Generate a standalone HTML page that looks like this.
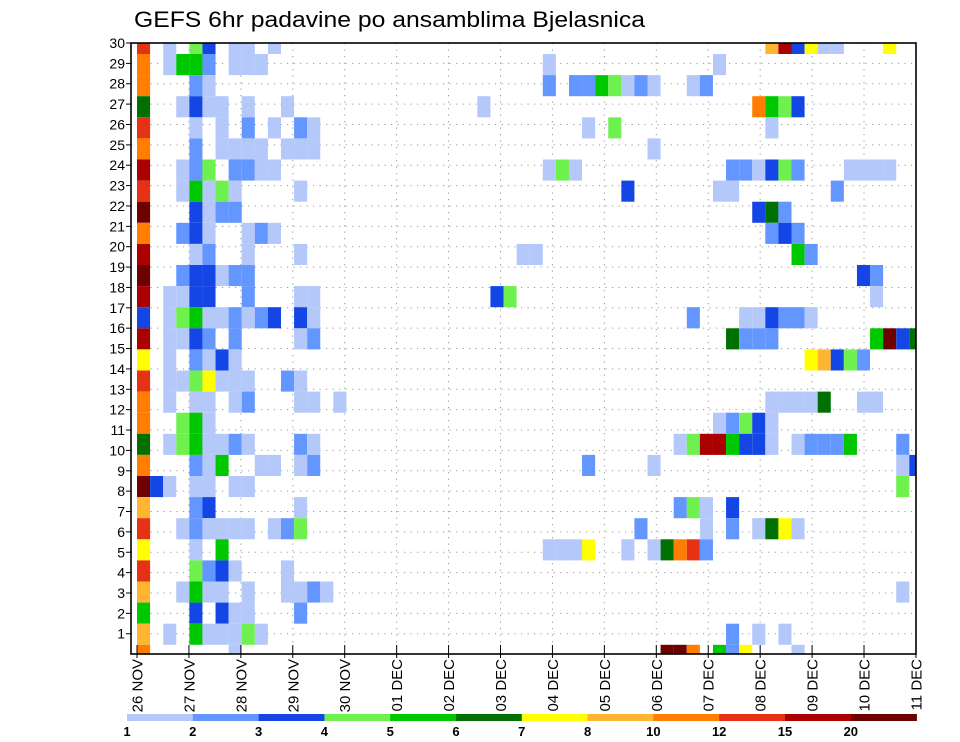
<!DOCTYPE html>
<html><head><meta charset="utf-8"><title>GEFS 6hr padavine</title>
<style>html,body{margin:0;padding:0;background:#fff;}svg{display:block;}</style>
</head><body>
<svg id="chart" width="960" height="742" viewBox="0 0 960 742" xmlns="http://www.w3.org/2000/svg" font-family="Liberation Sans, sans-serif">
<text x="134" y="27" font-size="22" textLength="511" lengthAdjust="spacingAndGlyphs" fill="#000">GEFS 6hr padavine po ansamblima Bjelasnica</text>
<g id="grid"></g>
<g id="cells"></g>
<g id="axes"></g>
<g id="colorbar"></g>
</svg>
<script>
// ---- data ----
const levelLabels = ["1","2","3","4","5","6","7","8","10","12","15","20"];
const levelColors = ["#b4c8fa","#6496ff","#1446e6","#6ef04e","#00c800","#007000","#ffff00","#ffb432","#ff7d00","#e63214","#aa0000","#6e0000"];
const dayLabels = ["26 NOV","27 NOV","28 NOV","29 NOV","30 NOV","01 DEC","02 DEC","03 DEC","04 DEC","05 DEC","06 DEC","07 DEC","08 DEC","09 DEC","10 DEC","11 DEC"];
const memberLabels = ["30","29","28","27","26","25","24","23","22","21","20","19","18","17","16","15","14","13","12","11","10","9","8","7","6","5","4","3","2","1"];
// each row: list of [column(6h step), levelIndex 0..11]; rows top (30) to bottom
const row00 = [[0,9],[2,0],[4,3],[5,2],[7,0],[8,0],[10,0],[48,7],[49,10],[50,2],[51,6],[52,0],[53,0],[57,6]];
const row01 = [[0,8],[2,0],[3,4],[4,4],[5,1],[7,0],[8,0],[9,0],[31,0],[44,0]];
const row02 = [[0,8],[4,1],[5,0],[31,1],[33,1],[34,1],[35,4],[36,3],[37,0],[38,1],[39,0],[42,0],[43,1]];
const row03 = [[0,5],[3,0],[4,2],[5,0],[6,0],[8,0],[11,0],[26,0],[47,8],[48,4],[49,3],[50,2]];
const row04 = [[0,9],[4,0],[6,0],[8,1],[10,0],[12,1],[13,0],[34,0],[36,3],[48,0]];
const row05 = [[0,8],[4,1],[6,0],[7,0],[8,0],[9,0],[11,0],[12,0],[13,0],[39,0]];
const row06 = [[0,10],[3,0],[4,1],[5,3],[7,1],[8,1],[9,0],[10,0],[31,0],[32,3],[33,0],[45,1],[46,1],[47,0],[48,2],[49,3],[50,1],[54,0],[55,0],[56,0],[57,0]];
const row07 = [[0,9],[3,0],[4,4],[5,0],[6,3],[7,0],[12,0],[37,2],[44,0],[45,0],[53,1]];
const row08 = [[0,11],[4,2],[5,0],[6,1],[7,1],[47,2],[48,5],[49,1]];
const row09 = [[0,8],[3,1],[4,2],[5,0],[8,0],[9,1],[10,0],[48,1],[49,2],[50,1]];
const row10 = [[0,10],[4,0],[5,1],[8,0],[12,0],[29,0],[30,0],[50,4],[51,1]];
const row11 = [[0,11],[3,1],[4,2],[5,2],[6,0],[7,1],[8,1],[55,2],[56,1]];
const row12 = [[0,10],[2,0],[3,0],[4,2],[5,2],[8,1],[12,0],[13,0],[27,2],[28,3],[56,0]];
const row13 = [[0,2],[2,0],[3,3],[4,4],[5,0],[6,0],[7,1],[8,0],[9,1],[10,2],[12,2],[13,0],[42,1],[46,0],[47,0],[48,2],[49,1],[50,1],[51,0]];
const row14 = [[0,10],[2,0],[3,0],[4,2],[5,1],[7,1],[12,0],[13,1],[45,5],[46,1],[47,1],[48,1],[56,4],[57,11],[58,2],[59,5]];
const row15 = [[0,6],[2,0],[4,1],[5,0],[6,2],[7,0],[51,6],[52,7],[53,2],[54,3],[55,1]];
const row16 = [[0,9],[2,0],[3,0],[4,3],[5,6],[6,0],[7,0],[8,0],[11,1],[12,0]];
const row17 = [[0,8],[2,0],[4,0],[5,0],[7,0],[8,1],[12,0],[13,0],[15,0],[48,0],[49,0],[50,0],[51,0],[52,5],[55,0],[56,0]];
const row18 = [[0,8],[3,3],[4,4],[5,0],[44,0],[45,1],[46,3],[47,2],[48,0]];
const row19 = [[0,5],[2,0],[3,3],[4,4],[5,0],[6,0],[7,1],[8,0],[12,1],[13,0],[41,0],[42,3],[43,10],[44,10],[45,4],[46,2],[47,2],[48,0],[50,0],[51,1],[52,1],[53,1],[54,4],[58,1]];
const row20 = [[0,8],[4,1],[5,0],[6,4],[9,0],[10,0],[12,0],[13,1],[34,1],[39,0],[58,0],[59,2]];
const row21 = [[0,11],[1,2],[2,0],[4,0],[5,0],[7,0],[8,0],[58,3]];
const row22 = [[0,7],[4,1],[5,2],[12,0],[41,1],[42,3],[43,0],[45,2]];
const row23 = [[0,9],[3,0],[4,1],[5,0],[6,0],[7,0],[8,0],[10,0],[11,1],[12,3],[38,1],[43,0],[45,1],[47,0],[48,5],[49,6],[50,0]];
const row24 = [[0,6],[4,0],[6,4],[31,0],[32,0],[33,0],[34,6],[37,0],[39,0],[40,5],[41,8],[42,9],[43,1]];
const row25 = [[0,9],[4,3],[5,1],[6,2],[7,0],[11,0]];
const row26 = [[0,7],[3,0],[4,4],[5,0],[6,0],[8,0],[11,0],[12,0],[13,1],[14,0],[58,0]];
const row27 = [[0,4],[4,2],[6,2],[7,0],[8,0],[12,1]];
const row28 = [[0,7],[2,0],[4,4],[5,0],[6,0],[7,0],[8,3],[9,0],[45,1],[47,0],[49,0]];
const row29 = [[0,8],[7,0],[40,11],[41,11],[42,8],[44,4],[45,1],[46,6],[50,0]];
const rows = [row00,row01,row02,row03,row04,row05,row06,row07,row08,row09,row10,row11,row12,row13,row14,row15,row16,row17,row18,row19,row20,row21,row22,row23,row24,row25,row26,row27,row28,row29];

// ---- geometry ----
const NS = "http://www.w3.org/2000/svg";
const FL = 131, FR = 916, FT = 43, FB = 654;
function colX(c){ return 137 + c*13.09; }
function rowTop(r){ return r===0 ? FT : 54 + (r-1)*21.1; }
function rowBot(r){ return r===rows.length-1 ? FB : 54 + r*21.1; }
function dayX(d){ return 137 + d*51.93; }
function memberY(i){ return FT + i*20.37; }
function mk(tag, attrs, parent){
  const e = document.createElementNS(NS, tag);
  for (const k in attrs) e.setAttribute(k, attrs[k]);
  parent.appendChild(e); return e;
}
const grid = document.getElementById('grid');
const cells = document.getElementById('cells');
const axes = document.getElementById('axes');
const cbar = document.getElementById('colorbar');

// grid dots
for (let i=1;i<memberLabels.length;i++){
  const l = mk('line',{x1:FL,x2:FR,y1:memberY(i),y2:memberY(i),stroke:'#999','stroke-width':1,'stroke-dasharray':'1.2 5.3'},grid);
  
  
}
for (let d=1; d<dayLabels.length-1; d++){
  const l = mk('line',{x1:dayX(d),x2:dayX(d),y1:FT,y2:FB,stroke:'#999','stroke-width':1,'stroke-dasharray':'1.2 5.3'},grid);
  
  
}

// cells
rows.forEach((row, r) => {
  row.forEach(([c, lv]) => {
    const x0 = colX(c), x1 = Math.min(colX(c+1), FR);
    const rc = mk('rect',{x:x0,y:rowTop(r),width:x1-x0,height:rowBot(r)-rowTop(r),fill:levelColors[lv]},cells);
    
    
  });
});

// frame
const fr = mk('rect',{x:FL,y:FT,width:FR-FL,height:FB-FT,fill:'none',stroke:'#000','stroke-width':1.6},axes);



// y axis
memberLabels.forEach((lab,i)=>{
  const y = memberY(i);
  mk('line',{x1:FL-5,x2:FL,y1:y,y2:y,stroke:'#000','stroke-width':1},axes);
  const t = mk('text',{x:FL-6,y:y+5,'font-size':14,'text-anchor':'end',fill:'#000'},axes);
  t.textContent = lab;
  
  
});

// x axis
dayLabels.forEach((lab,d)=>{
  const x = dayX(d);
  mk('line',{x1:x,x2:x,y1:FB-9,y2:FB+4,stroke:'#000','stroke-width':1},axes);
  const t = mk('text',{x:0,y:0,'font-size':15,'text-anchor':'end',fill:'#000',transform:'translate('+(x+5.5)+',659) rotate(-90)'},axes);
  t.textContent = lab;
  
  
});

// colorbar
const CB0 = 127, CBW = 65.8;
levelColors.forEach((col,k)=>{
  const rc = mk('rect',{x:CB0+k*CBW,y:714,width:CBW+0.3,height:7,fill:col},cbar);
  
  
  const t = mk('text',{x:CB0+k*CBW,y:736,'font-size':13,'font-weight':'bold','text-anchor':'middle',fill:'#000'},cbar);
  t.textContent = levelLabels[k];
  
  
});
</script>
</body></html>
